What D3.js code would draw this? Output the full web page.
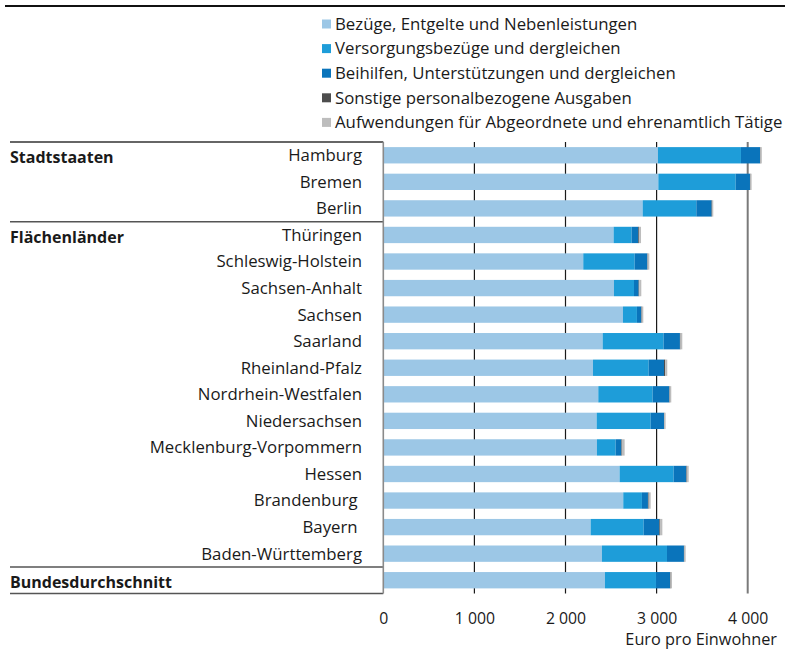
<!DOCTYPE html>
<html lang="de">
<head>
    <meta charset="UTF-8">
    <title>Personalausgaben je Einwohner</title>
    <script src="https://cdn.jsdelivr.net/npm/d3@7"></script>
    <style>
        body {
            margin: 0;
            background-color: #fff;
        }

        svg {
            display: block;
            font-family: "Open Sans", "Noto Sans", sans-serif;
        }

        .row-label {
            white-space: pre;
        }
    </style>
</head>
<body>
    <svg id="chart" width="785" height="651"></svg>

    <script>
        const width = 785;
        const height = 651;

        const categories = [
            "Hamburg", "Bremen", "Berlin", "Thüringen", "Schleswig-Holstein",
            "Sachsen-Anhalt", "Sachsen", "Saarland", "Rheinland-Pfalz",
            "Nordrhein-Westfalen", "Niedersachsen", "Mecklenburg-Vorpommern",
            "Hessen", "Brandenburg ", "Bayern ", "Baden-Württemberg", "Bundesdurchschnitt"
        ];

        const bezuege      = [3015, 3019, 2847, 2528, 2195, 2532, 2631, 2408, 2302, 2360, 2342, 2345, 2594, 2634, 2276, 2400, 2433];
        const versorgung   = [ 911,  849,  589,  198,  564,  220,  153,  669,  611,  596,  593,  205,  593,  205,  582,  714,  560];
        const beihilfen    = [ 209,  157,  168,   73,  139,   51,   48,  179,  168,  183,  146,   63,  139,   66,  172,  186,  154];
        const sonstige     = [   5,    5,    5,    8,    4,    6,    5,    6,   14,    5,    4,    6,    6,    8,    8,    5,    6];
        const aufwendungen = [  15,   13,   13,   22,   18,   23,   17,   20,   22,   17,   14,   30,   20,   22,   25,   14,   16];

        const seriesNames = [
            "Bezüge, Entgelte und Nebenleistungen",
            "Versorgungsbezüge und dergleichen",
            "Beihilfen, Unterstützungen und dergleichen",
            "Sonstige personalbezogene Ausgaben",
            "Aufwendungen für Abgeordnete und ehrenamtlich Tätige"
        ];
        const seriesColors = ["#9cc7e6", "#1e9dd9", "#0a74bb", "#4d4d4d", "#bdbdbd"];

        const groupLabels = ["Stadtstaaten", "Flächenländer", "Bundesdurchschnitt"];
        const groupStarts = ["Hamburg", "Thüringen", "Bundesdurchschnitt"];

        const tickValues = [0, 1000, 2000, 3000, 4000];
        const axisTitle = "Euro pro Einwohner";

        const keys = ["bezuege", "versorgung", "beihilfen", "sonstige", "aufwendungen"];
        const table = categories.map((c, i) => ({
            name: c,
            bezuege: bezuege[i],
            versorgung: versorgung[i],
            beihilfen: beihilfen[i],
            sonstige: sonstige[i],
            aufwendungen: aufwendungen[i]
        }));

        const svg = d3.select("#chart");

        const x = d3.scaleLinear()
            .domain([0, 4000])
            .range([383.3, 747.7]);

        const y = d3.scaleBand()
            .domain(categories)
            .range([142, 593.5])
            .paddingInner(0.385)
            .paddingOuter(0.1925);

        const color = d3.scaleOrdinal().domain(keys).range(seriesColors);

        // top rule (title cut off above)
        svg.append("line")
            .attr("x1", 5).attr("x2", width)
            .attr("y1", 6).attr("y2", 6)
            .attr("stroke", "#111")
            .attr("stroke-width", 2.2);

        // legend
        const legend = svg.append("g");
        seriesNames.forEach((name, i) => {
            const ly = 24 + i * 24.6;
            legend.append("rect")
                .attr("x", 322).attr("y", ly - 4.5)
                .attr("width", 9).attr("height", 9)
                .attr("fill", seriesColors[i]);
            legend.append("text")
                .attr("x", 335).attr("y", ly)
                .attr("dy", "0.35em")
                .attr("font-size", "16.8px")
                .attr("fill", "#1a1a1a")
                .text(name);
        });

        // grid lines
        svg.append("g")
            .selectAll("line")
            .data(tickValues.slice(1))
            .join("line")
            .attr("x1", d => x(d)).attr("x2", d => x(d))
            .attr("y1", 142).attr("y2", 593.5)
            .attr("stroke", d => d === 4000 ? "#7a7a7a" : "#1a1a1a")
            .attr("stroke-width", d => d === 4000 ? 2 : 1.2);

        // stacked bars
        const stacked = d3.stack().keys(keys)(table);
        svg.append("g")
            .selectAll("g")
            .data(stacked)
            .join("g")
            .attr("fill", d => color(d.key))
            .selectAll("rect")
            .data(d => d)
            .join("rect")
            .attr("x", d => x(d[0]))
            .attr("y", d => y(d.data.name))
            .attr("width", d => x(d[1]) - x(d[0]))
            .attr("height", y.bandwidth());

        // label box
        const box = svg.append("g")
            .attr("stroke", "#555")
            .attr("stroke-width", 1.4)
            .attr("fill", "none");
        const boxTop = y.range()[0];
        const boxBottom = y.range()[1];
        box.append("line").attr("x1", 10).attr("x2", x(0)).attr("y1", boxTop).attr("y2", boxTop).attr("stroke", "#333");
        box.append("line").attr("x1", 10).attr("x2", x(0)).attr("y1", boxBottom).attr("y2", boxBottom);
        groupStarts.slice(1).forEach(s => {
            const yy = y(s) - y.step() * y.paddingInner() / 2;
            box.append("line").attr("x1", 10).attr("x2", x(0)).attr("y1", yy).attr("y2", yy);
        });
        box.append("line")
            .attr("x1", x(0)).attr("x2", x(0))
            .attr("y1", boxTop).attr("y2", boxBottom)
            .attr("stroke", "#8a8a8a")
            .attr("stroke-width", 1.6);

        // row labels
        svg.append("g")
            .selectAll("text")
            .data(categories.filter(c => !groupLabels.includes(c)))
            .join("text")
            .attr("class", "row-label")
            .attr("x", 362)
            .attr("y", d => y(d) + y.bandwidth() / 2)
            .attr("dy", "0.35em")
            .attr("text-anchor", "end")
            .attr("font-size", "16.8px")
            .attr("fill", "#1a1a1a")
            .text(d => d);

        // group labels
        svg.append("g")
            .selectAll("text")
            .data(groupLabels)
            .join("text")
            .attr("x", 10)
            .attr("y", (d, i) => y(groupStarts[i]) + y.bandwidth() / 2 + 2)
            .attr("dy", "0.35em")
            .attr("font-size", "16px")
            .attr("font-weight", "bold")
            .attr("fill", "#1a1a1a")
            .text(d => d);

        // x axis
        const axis = svg.append("g")
            .attr("transform", "translate(0,606)")
            .call(d3.axisBottom(x).tickValues(tickValues).tickSize(0).tickPadding(0)
                .tickFormat(d => d3.format(",")(d).replace(",", " ")));
        axis.select(".domain").remove();
        axis.selectAll("text")
            .attr("font-family", "\"Open Sans\", \"Noto Sans\", sans-serif")
            .attr("font-size", "15.8px")
            .attr("fill", "#1a1a1a")
            .attr("dy", "0.35em")
            .attr("y", 12);

        svg.append("text")
            .attr("x", 777)
            .attr("y", 639)
            .attr("dy", "0.35em")
            .attr("text-anchor", "end")
            .attr("font-size", "16.3px")
            .attr("fill", "#1a1a1a")
            .text(axisTitle);
    </script>
</body>
</html>
